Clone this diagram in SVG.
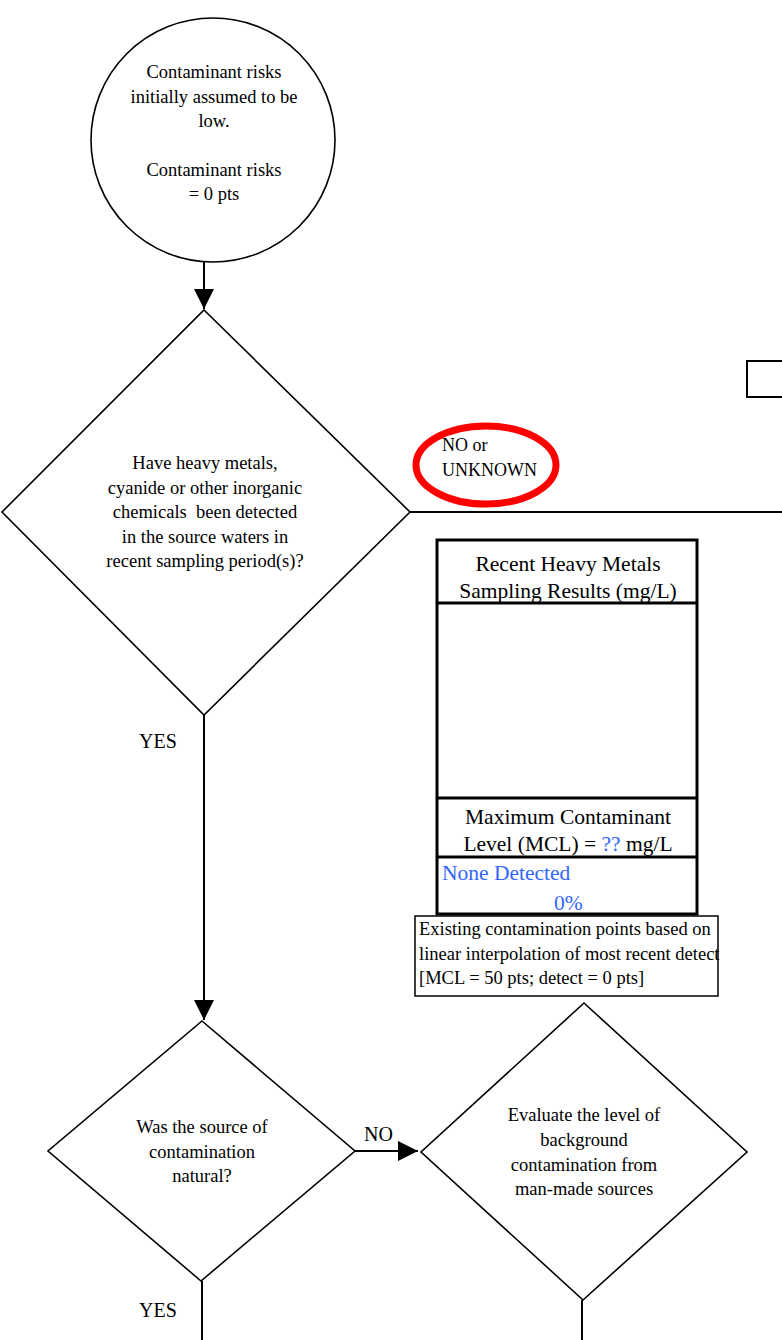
<svg xmlns="http://www.w3.org/2000/svg" width="782" height="1340" viewBox="0 0 782 1340">
<style>
text{font-family:"Liberation Serif","Times New Roman",serif;fill:#000}
.s{font-size:18.5px}
.n{font-size:18px}
.m{font-size:21.5px}
.l{font-size:20px}
.c{text-anchor:middle}
.b{fill:#3366ff}
.pre{white-space:pre}
.shape{fill:#fff;stroke:#000;stroke-width:1.6}
.conn{fill:none;stroke:#000;stroke-width:2}
.tbl{fill:none;stroke:#000;stroke-width:3}
</style>
<defs>
<marker id="ah" markerWidth="10" markerHeight="10" refX="10" refY="5" orient="auto" markerUnits="strokeWidth"><path d="M0,0 L10,5 L0,10 Z" fill="#000"/></marker>
</defs>
<g id="connectors">
<line class="conn" x1="204" y1="262" x2="204" y2="309" marker-end="url(#ah)"/>
<line class="conn" x1="410" y1="512" x2="782" y2="512"/>
<line class="conn" x1="204" y1="715" x2="204" y2="1020" marker-end="url(#ah)"/>
<line class="conn" x1="355" y1="1151" x2="418" y2="1151" marker-end="url(#ah)"/>
<line class="conn" x1="202" y1="1281" x2="202" y2="1340"/>
<line class="conn" x1="582" y1="1300" x2="582" y2="1340"/>
</g>
<g id="start">
<ellipse class="shape" cx="213" cy="140" rx="122" ry="122"/>
<text class="s c" x="214" y="78">Contaminant risks</text>
<text class="s c" x="214" y="103">initially assumed to be</text>
<text class="s c" x="214" y="127">low.</text>
<text class="s c" x="214" y="176">Contaminant risks</text>
<text class="s c" x="214" y="200">= 0 pts</text>
</g>
<g id="q1">
<polygon class="shape" points="204,310 410,512 204,715 2,512"/>
<text class="s c" x="205" y="469">Have heavy metals,</text>
<text class="s c" x="205" y="494">cyanide or other inorganic</text>
<text class="s c pre" x="205" y="518" xml:space="preserve">chemicals  been detected</text>
<text class="s c" x="205" y="543">in the source waters in</text>
<text class="s c" x="205" y="567">recent sampling period(s)?</text>
</g>
<g id="label-no-unknown">
<ellipse cx="486" cy="465" rx="70" ry="39" fill="none" stroke="#ff0000" stroke-width="7"/>
<text class="n" x="442" y="451">NO or</text>
<text class="n" x="442" y="476">UNKNOWN</text>
</g>
<g id="offpage">
<rect x="747" y="361" width="40" height="36" fill="#fff" stroke="#000" stroke-width="2"/>
</g>
<text class="l" x="139" y="748">YES</text>
<g id="results-table">
<rect class="tbl" x="437" y="540" width="260" height="374" fill="#fff"/>
<line class="tbl" x1="437" y1="603" x2="697" y2="603"/>
<line class="tbl" x1="437" y1="798" x2="697" y2="798"/>
<line class="tbl" x1="437" y1="857" x2="697" y2="857"/>
<text class="m c" x="568" y="571">Recent Heavy Metals</text>
<text class="m c" x="568" y="598">Sampling Results (mg/L)</text>
<text class="m c" x="568" y="824">Maximum Contaminant</text>
<text class="m c" x="568" y="851">Level (MCL) = <tspan class="b">??</tspan> mg/L</text>
<text class="m b" x="442" y="880">None Detected</text>
<text class="m b" x="554" y="910">0%</text>
</g>
<g id="note">
<rect x="415" y="916" width="303" height="80" fill="#fff" stroke="#000" stroke-width="1.5"/>
<text class="s" x="419" y="935">Existing contamination points based on</text>
<text class="s" x="419" y="960">linear interpolation of most recent detect</text>
<text class="s" x="419" y="984">[MCL = 50 pts; detect = 0 pts]</text>
</g>
<g id="q2">
<polygon class="shape" points="202,1021 355,1151 201,1281 48,1151"/>
<text class="s c" x="202" y="1133">Was the source of</text>
<text class="s c" x="202" y="1158">contamination</text>
<text class="s c" x="202" y="1182">natural?</text>
</g>
<text class="l" x="364" y="1141">NO</text>
<g id="evaluate">
<polygon class="shape" points="584,1003 747,1152 583,1300 421,1152"/>
<text class="s c" x="584" y="1121">Evaluate the level of</text>
<text class="s c" x="584" y="1146">background</text>
<text class="s c" x="584" y="1171">contamination from</text>
<text class="s c" x="584" y="1195">man-made sources</text>
</g>
<text class="l" x="139" y="1317">YES</text>
</svg>
